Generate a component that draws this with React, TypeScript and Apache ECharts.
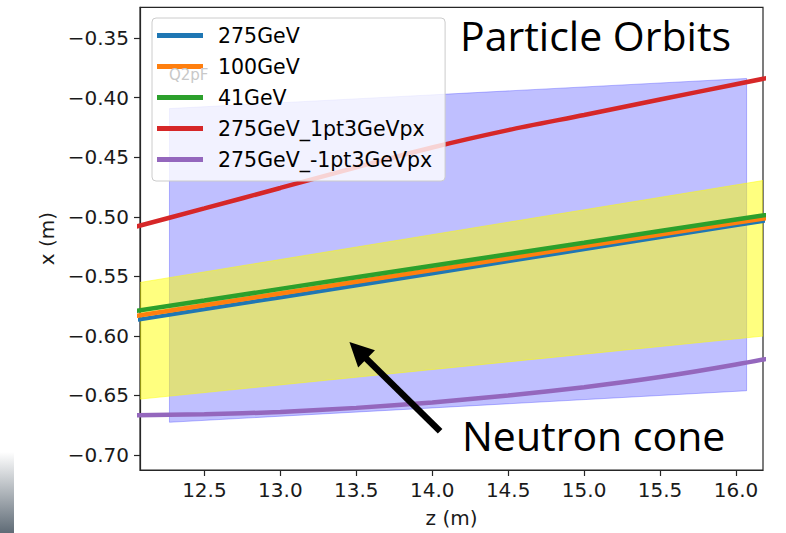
import React, { useEffect, useRef } from "react";
import * as echarts from "echarts";

// z positions (m) at which orbits were read
const zValues = [12.0, 12.5, 13.0, 13.5, 14.0, 14.5, 15.0, 15.5, 16.0, 16.5];
// x (m) of each orbit
const orbit275 = [-0.5879, -0.5778, -0.5678, -0.5577, -0.5476, -0.5375, -0.5274, -0.5173, -0.5072, -0.4972];
const orbit100 = [-0.5843, -0.5744, -0.5645, -0.5546, -0.5447, -0.5348, -0.5249, -0.515, -0.5051, -0.4952];
const orbit41 = [-0.5801, -0.5704, -0.5606, -0.5509, -0.5412, -0.5315, -0.5218, -0.512, -0.5023, -0.4926];
const orbit275p = [-0.51, -0.493, -0.4758, -0.4585, -0.4418, -0.4272, -0.4145, -0.4015, -0.3886, -0.376];
const orbit275m = [-0.6668, -0.666, -0.6641, -0.6606, -0.656, -0.6502, -0.6432, -0.6347, -0.6242, -0.612];

const seriesNames = ["275GeV", "100GeV", "41GeV", "275GeV_1pt3GeVpx", "275GeV_-1pt3GeVpx"];
const seriesColors = ["#1f77b4", "#ff7f0e", "#2ca02c", "#d62728", "#9467bd"];
const orbits = [orbit275, orbit100, orbit41, orbit275p, orbit275m];

// neutron cone (blue) band
const coneZ = [12.27, 16.07];
const coneTop = [-0.4091, -0.3838];
const coneBottom = [-0.6727, -0.6462];
// yellow band
const bandZ = [12.0, 16.2];
const bandTop = [-0.5568, -0.4691];
const bandBottom = [-0.6542, -0.6];

// arrow annotation (data coords)
const arrowFrom = [14.052, -0.6802];
const arrowTo = [13.455, -0.6053];

const xTicks = [12.5, 13.0, 13.5, 14.0, 14.5, 15.0, 15.5, 16.0];
const yTicks = [-0.7, -0.65, -0.6, -0.55, -0.5, -0.45, -0.4, -0.35];
const xRange = [12.076, 16.178];
const yRange = [-0.7128, -0.324];

const fmt = (v: number, d: number) => (v < 0 ? "\u2212" : "") + Math.abs(v).toFixed(d);

function bandSeries(name: string, zs: number[], top: number[], bottom: number[], color: string) {
  return {
    type: "custom",
    name,
    clip: true,
    silent: true,
    data: zs.map((z, i) => [z, top[i]]),
    renderItem: (params: any, api: any) => {
      if (params.dataIndex !== 0) return null;
      const upper = zs.map((z, i) => api.coord([z, top[i]]));
      const lower = zs.map((z, i) => api.coord([z, bottom[i]])).reverse();
      return {
        type: "polygon",
        shape: { points: upper.concat(lower) },
        style: { fill: color, stroke: color, lineWidth: 1 },
      };
    },
  };
}

export default function App() {
  const ref = useRef<HTMLDivElement>(null);
  useEffect(() => {
    const chart = echarts.init(ref.current!, null, { renderer: "svg" });
    const font = "DejaVu Sans";
    const lineSeries = seriesNames.map((name, k) => ({
      type: "line",
      name,
      data: zValues.map((z, i) => [z, orbits[k][i]]),
      showSymbol: false,
      symbol: "none",
      clip: true,
      smooth: k >= 3 ? 0.25 : false,
      itemStyle: { color: seriesColors[k] },
      lineStyle: { color: seriesColors[k], width: k === 0 ? 4 : 4.5 },
      z: 3,
    }));
    chart.setOption({
      animation: false,
      grid: {
        left: 140,
        top: 7.3,
        right: 23,
        bottom: 60,
        show: true,
        borderColor: "#262626",
        borderWidth: 1.2,
        backgroundColor: "transparent",
      },
      xAxis: {
        type: "value",
        min: xRange[0],
        max: xRange[1],
        name: "z (m)",
        nameLocation: "middle",
        nameGap: 38,
        nameTextStyle: { fontFamily: font, fontSize: 20, color: "#1a1a1a" },
        axisLine: { show: true, lineStyle: { color: "#262626", width: 1.2 } },
        axisTick: { show: true, customValues: xTicks, length: 6, lineStyle: { color: "#262626", width: 1.2 } },
        axisLabel: {
          customValues: xTicks,
          formatter: (v: number) => fmt(v, 1),
          fontFamily: font,
          fontSize: 20,
          color: "#1a1a1a",
          margin: 10,
        },
        splitLine: { show: false },
      },
      yAxis: {
        type: "value",
        min: yRange[0],
        max: yRange[1],
        name: "x (m)",
        nameLocation: "middle",
        nameGap: 82,
        nameRotate: 90,
        nameTextStyle: { fontFamily: font, fontSize: 20, color: "#1a1a1a" },
        axisLine: { show: true, lineStyle: { color: "#262626", width: 1.2 } },
        axisTick: { show: true, customValues: yTicks, length: 6, lineStyle: { color: "#262626", width: 1.2 } },
        axisLabel: {
          customValues: yTicks,
          formatter: (v: number) => fmt(v, 2),
          fontFamily: font,
          fontSize: 20,
          color: "#1a1a1a",
          margin: 11,
        },
        splitLine: { show: false },
      },
      legend: {
        data: seriesNames,
        orient: "vertical",
        left: 152,
        top: 18,
        icon: "rect",
        itemWidth: 46,
        itemHeight: 5,
        itemGap: 10,
        padding: [7, 13, 11, 5],
        backgroundColor: "rgba(255,255,255,0.8)",
        borderColor: "#cccccc",
        borderWidth: 1,
        borderRadius: 4,
        selectedMode: false,
        textStyle: { fontFamily: font, fontSize: 20.5, color: "#000", padding: [0, 0, 0, 10] },
      },
      graphic: [
        {
          type: "text",
          left: 460,
          top: 14,
          style: { text: "Particle Orbits", font: "41px 'Open Sans'", fill: "#000" },
          z: 10,
        },
        {
          type: "text",
          left: 462,
          top: 414,
          style: { text: "Neutron cone", font: "41px 'Open Sans'", fill: "#000" },
          z: 10,
        },
        {
          type: "text",
          left: 169,
          top: 67,
          style: { text: "Q2pF", font: "15px 'DejaVu Sans'", fill: "#c8c8c8" },
          z: 10,
        },
        {
          type: "rect",
          shape: { x: 0, y: 452, width: 14, height: 81 },
          style: {
            fill: new echarts.graphic.LinearGradient(0, 0, 0, 1, [
              { offset: 0, color: "#ffffff" },
              { offset: 1, color: "#5f6b76" },
            ]),
          },
        },
      ],
      series: [
        bandSeries("cone", coneZ, coneTop, coneBottom, "rgba(0,0,255,0.25)"),
        bandSeries("band", bandZ, bandTop, bandBottom, "rgba(255,255,0,0.5)"),
        ...lineSeries,
        {
          type: "custom",
          name: "arrow",
          silent: true,
          z: 5,
          data: [arrowFrom],
          renderItem: (params: any, api: any) => {
            const a = api.coord(arrowFrom);
            const b = api.coord(arrowTo);
            const dx = b[0] - a[0];
            const dy = b[1] - a[1];
            const len = Math.sqrt(dx * dx + dy * dy);
            const ux = dx / len;
            const uy = dy / len;
            const headLen = 24;
            const headHalf = 12;
            const bx = b[0] - ux * headLen;
            const by = b[1] - uy * headLen;
            return {
              type: "group",
              children: [
                {
                  type: "line",
                  shape: { x1: a[0], y1: a[1], x2: bx + ux * 2, y2: by + uy * 2 },
                  style: { stroke: "#000", lineWidth: 6.5 },
                },
                {
                  type: "polygon",
                  shape: {
                    points: [
                      [b[0], b[1]],
                      [bx - uy * headHalf, by + ux * headHalf],
                      [bx + uy * headHalf, by - ux * headHalf],
                    ],
                  },
                  style: { fill: "#000" },
                },
              ],
            };
          },
        },
      ],
    });
    return () => chart.dispose();
  }, []);
  return <div ref={ref} style={{ width: 786, height: 533, position: "absolute", left: 0, top: 0, background: "#fff" }} />;
}
